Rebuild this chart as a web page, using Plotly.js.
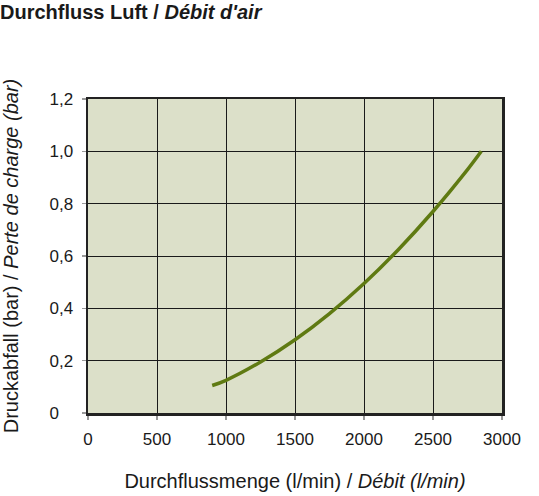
<!DOCTYPE html>
<html><head><meta charset="utf-8">
<script src="https://cdn.plot.ly/plotly-3.0.1.min.js"></script>
<style>html,body{margin:0;padding:0;background:#fff}#chart{width:539px;height:496px}</style>
</head><body><div id="chart"></div>
<script>
const flow = [900, 1000, 1250, 1500, 1750, 2000, 2250, 2500, 2750, 2850];
const pressure = [0.105, 0.125, 0.195, 0.28, 0.38, 0.495, 0.625, 0.77, 0.93, 1.0];
const xTicks = [0, 500, 1000, 1500, 2000, 2500, 3000];
const xTickText = ['0', '500', '1000', '1500', '2000', '2500', '3000'];
const yTicks = [0, 0.2, 0.4, 0.6, 0.8, 1.0, 1.2];
const yTickText = ['0&nbsp;&nbsp;&nbsp;', '0,2', '0,4', '0,6', '0,8', '1,0', '1,2'];

const font = 'Liberation Sans, Arial, Helvetica, sans-serif';
Plotly.newPlot('chart', [{
  x: flow, y: pressure, type: 'scatter', mode: 'lines',
  line: {color: '#5f7a12', width: 3.5, shape: 'spline'},
  hoverinfo: 'skip'
}], {
  width: 539, height: 496,
  margin: {l: 88, r: 37, t: 99, b: 83},
  paper_bgcolor: '#ffffff', plot_bgcolor: '#dce0c9',
  showlegend: false,
  font: {family: font, color: '#1a1a1a', size: 17},
  title: {text: '<b>Durchfluss Luft / <i>Débit d\'air</i></b>', x: 0.0, xanchor: 'left', y: 0.976, yanchor: 'middle', font: {size: 20, family: font, color: '#1a1a1a'}},
  xaxis: {
    range: [0, 3000], tickvals: xTicks, ticktext: xTickText,
    showgrid: true, gridcolor: '#1a1a1a', gridwidth: 1,
    showline: true, linecolor: '#222', linewidth: 2.5, mirror: true,
    ticks: 'outside', ticklen: 4, tickcolor: '#999', tickwidth: 1.5,
    ticklabelstandoff: 5,
    zeroline: false, fixedrange: true,
    tickfont: {size: 17, family: font, color: '#1a1a1a'},
    title: {text: 'Durchflussmenge (l/min) / <i>Débit (l/min)</i>', standoff: 26, font: {size: 20, family: font, color: '#1a1a1a'}}
  },
  yaxis: {
    range: [0, 1.2], tickvals: yTicks, ticktext: yTickText,
    showgrid: true, gridcolor: '#1a1a1a', gridwidth: 1,
    showline: true, linecolor: '#222', linewidth: 2.5, mirror: true,
    ticks: 'outside', ticklen: 4, tickcolor: '#999', tickwidth: 1.5,
    ticklabelstandoff: 5,
    zeroline: false, fixedrange: true,
    tickfont: {size: 17, family: font, color: '#1a1a1a'},
    title: {text: 'Druckabfall (bar) / <i>Perte de charge (bar)</i>', standoff: 30, font: {size: 20, family: font, color: '#1a1a1a'}}
  }
}, {displayModeBar: false, staticPlot: true});
</script></body></html>
